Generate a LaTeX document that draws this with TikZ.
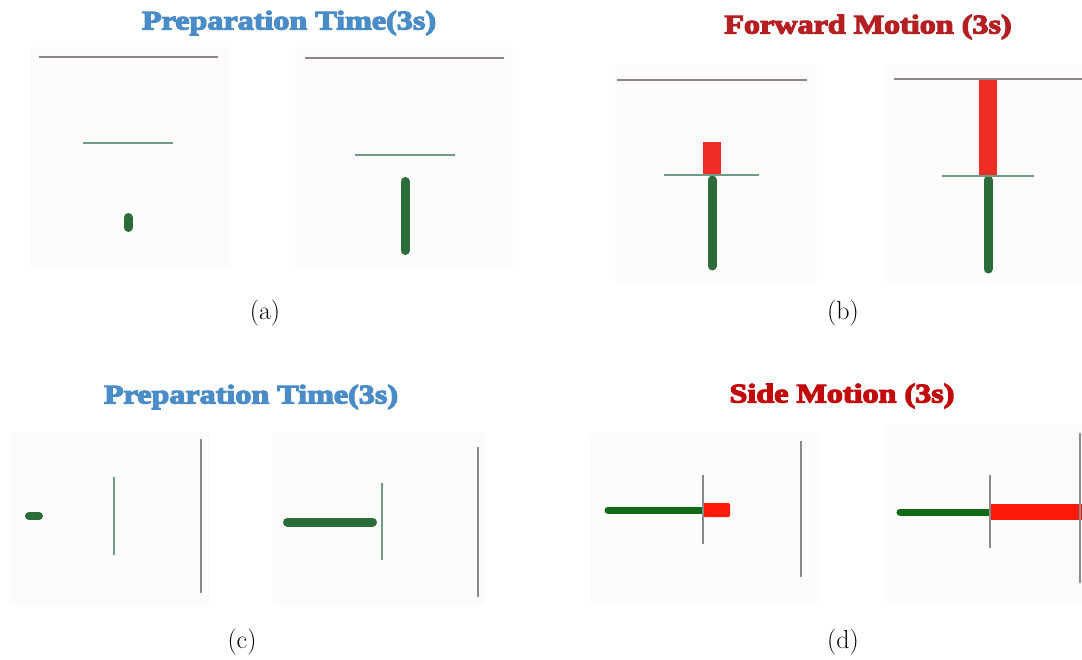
\documentclass[tikz,border=0pt]{standalone}
\usepackage{fontspec}
\newfontfamily\titlefont{Liberation Serif}[BoldFeatures={FakeBold=4}]
\newcommand{\ttl}[1]{\scalebox{1.19}[1]{#1}}
\definecolor{panelbg}{HTML}{FDFCFB}
\definecolor{topgray}{HTML}{8C8486}
\definecolor{thingreen}{HTML}{6F9C85}
\definecolor{bargreen}{HTML}{2C6B3A}
\definecolor{sidegreen}{HTML}{106A14}
\definecolor{barred}{HTML}{EE2E24}
\definecolor{sidered}{HTML}{FF1A0A}
\definecolor{titleblue}{HTML}{4A8CC8}
\definecolor{titlered}{HTML}{B51F22}
\definecolor{titlered2}{HTML}{C20A0C}
\definecolor{axisgray}{HTML}{8A8A8A}
\tikzset{
  panel/.style={fill=panelbg, draw=none},
  topline/.style={draw=topgray, line width=2pt},
  crossline/.style={draw=thingreen, line width=2pt},
  grayline/.style={draw=axisgray, line width=1.8pt},
  greenbar/.style={draw=bargreen, line width=9pt, line cap=round},
  sidebar/.style={draw=sidegreen, line width=7pt, line cap=round},
  redblock/.style={fill=barred, draw=none},
  redside/.style={fill=sidered, draw=none},
  titletext/.style={font=\titlefont\bfseries\fontsize{27}{30}\selectfont, inner sep=0pt},
  captext/.style={font=\fontsize{26}{28}\selectfont, inner sep=0pt}
}
\begin{document}
\begin{tikzpicture}[x=1pt,y=-1pt]
\useasboundingbox (0,0) rectangle (1082,660);
\fill[white] (0,0) rectangle (1082,660);
% ---------- (a) ----------
\node[titletext, text=titleblue] (ta) at (289,23) {\ttl{Preparation Time(3s)}};
\fill[panel] (30,47) rectangle (230,268);
\fill[panel] (295,47) rectangle (513,268);
\draw[topline] (39,57) -- (218,57);
\draw[crossline] (83,143) -- (173,143);
\draw[greenbar] (128,217.5) -- (128,227.5);
\draw[topline] (305,58) -- (504,58);
\draw[crossline] (355,155) -- (455,155);
\draw[greenbar] (405,181.5) -- (405,250.5);
\node[captext] (ca) at (265,313) {(a)};
% ---------- (b) ----------
\node[titletext, text=titlered] (tb) at (868,27) {\ttl{Forward Motion (3s)}};
\fill[panel] (615,65) rectangle (817,282);
\fill[panel] (885,65) rectangle (1082,282);
\draw[topline] (617,80) -- (807,80);
\draw[greenbar] (712,180) -- (712,266);
\fill[redblock] (703,142) rectangle (721,175);
\draw[crossline] (664,175) -- (759,175);
\draw[greenbar] (988,180) -- (988,269);
\fill[redblock] (979,79) rectangle (997,176);
\draw[topline] (894,79) -- (1082,79);
\draw[crossline] (942,176) -- (1034,176);
\node[captext] (cb) at (843,313) {(b)};
% ---------- (c) ----------
\node[titletext, text=titleblue] (tc) at (251,397) {\ttl{Preparation Time(3s)}};
\fill[panel] (10,432) rectangle (210,605);
\fill[panel] (273,432) rectangle (485,605);
\draw[greenbar, line width=8pt] (29,516) -- (39,516);
\draw[crossline] (114,477) -- (114,555);
\draw[grayline] (201,439) -- (201,593);
\draw[greenbar] (287.5,522) -- (372.5,522);
\draw[crossline] (382,483) -- (382,560);
\draw[grayline] (478,447) -- (478,597);
\node[captext] (cc) at (242,642) {(c)};
% ---------- (d) ----------
\node[titletext, text=titlered2] (td) at (842,396) {\ttl{Side Motion (3s)}};
\fill[panel] (590,433) rectangle (820,602);
\fill[panel] (885,425) rectangle (1082,603);
\draw[sidebar] (608,510) -- (703,510);
\fill[redside, rounded corners=1.5pt] (703,503) rectangle (730,517);
\draw[grayline] (703,475) -- (703,544);
\draw[grayline] (801,441) -- (801,577);
\draw[sidebar] (900,512) -- (990,512);
\fill[redside] (990,504) rectangle (1082,520);
\draw[grayline] (990,475) -- (990,548);
\draw[grayline] (1080,433) -- (1080,583);
\node[captext] (cd) at (843,642) {(d)};
\end{tikzpicture}
\end{document}
